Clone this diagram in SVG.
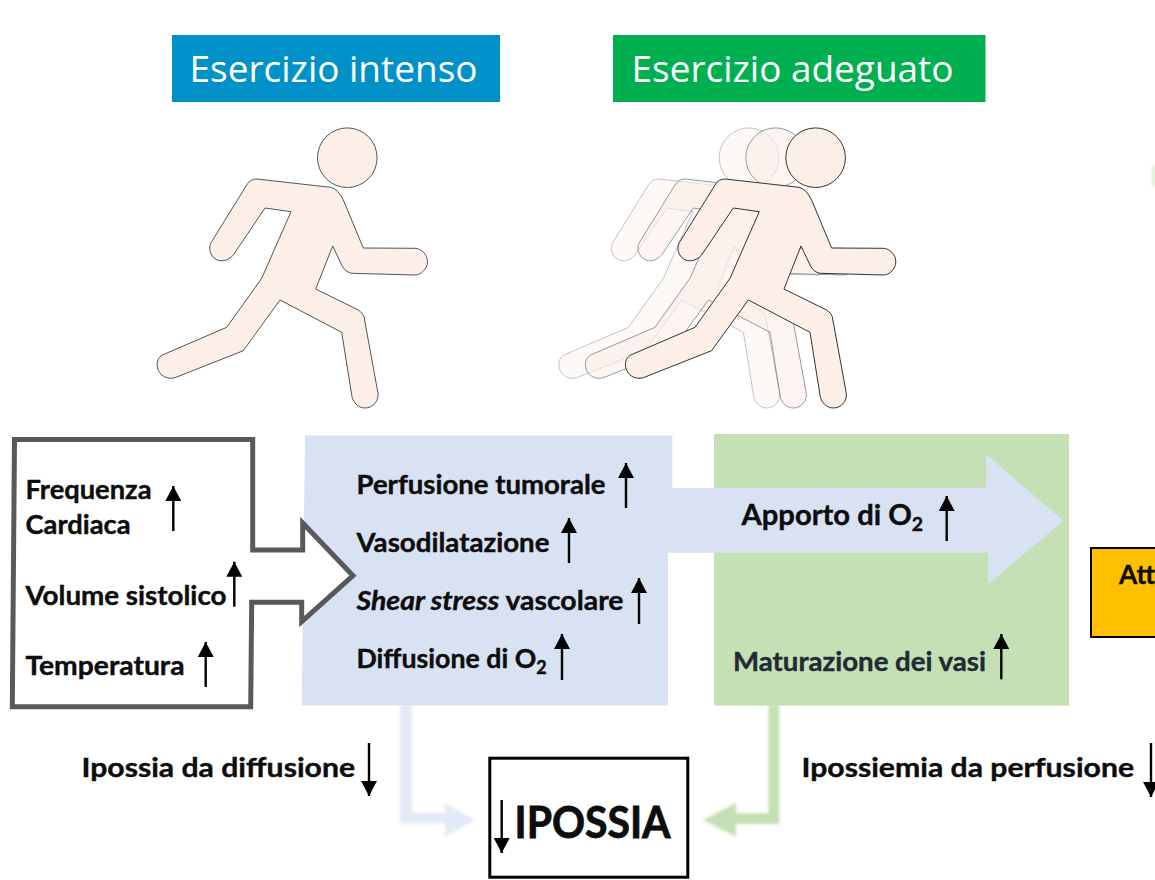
<svg xmlns="http://www.w3.org/2000/svg" xmlns:xlink="http://www.w3.org/1999/xlink" width="1155" height="880" viewBox="0 0 1155 880">
<style>
.t{font-family:"Lato","Liberation Sans",sans-serif;font-weight:700;font-size:27px;fill:#0d0d0d;stroke:#0d0d0d;stroke-width:0.4px}
.h{font-family:"Open Sans","Liberation Sans",sans-serif;font-size:37px;fill:#fff;font-weight:400}
.sub{font-size:18px}
.ar{stroke:#000;stroke-width:2.4;fill:none;marker-end:url(#head)}
.fig{fill:#fbefe8;stroke:#555;stroke-width:1}
</style>
<defs>
<marker id="head" markerUnits="userSpaceOnUse" markerWidth="18" markerHeight="16" refX="15" refY="8" orient="auto"><path d="M0 0L15 8L0 16Z" fill="#000"/></marker>
<filter id="soft" x="-10%" y="-10%" width="120%" height="120%"><feGaussianBlur stdDeviation="1.500"/></filter>
<g id="runner">
<circle cx="347.3" cy="157.7" r="29.8"/>
<path d="M256.7 179L330.7 187.3Q338 189 343.3 200L363.3 248L415 248.3C421 248.5 427.5 254 427.5 261.7C427.5 269 421 275 415 275L351.7 273.3Q345 272 341.7 265L332.7 246L315.7 289L358.3 310Q363 313 364 316.7L378 393.3C379 401 373 408 365 408C358 408 352.5 402 351.7 395L341.7 332.3L280 300L243.3 350.7L175 377.7C166 380 159.5 375 157.5 368C156 361 159 356 164 354.3L226.7 327.3L261.7 278.3L291 211.7L265 208L233.3 255C228 261 220 263 214 258C209 253 208 246 212.7 240L246.7 185Q250 179 256.7 179Z"/>
</g>
</defs>
<rect width="1155" height="880" fill="#fff"/>
<g id="title-intenso"><rect x="172" y="35" width="328" height="67" fill="#0091c9"/><text class="h" x="189.500" y="82" textLength="288" lengthAdjust="spacingAndGlyphs">Esercizio intenso</text></g>
<g id="title-adeguato"><rect x="613" y="35" width="372.500" height="67" fill="#00b050"/><text class="h" x="631.500" y="82" textLength="322" lengthAdjust="spacingAndGlyphs">Esercizio adeguato</text></g>
<g id="runner-intenso"><use xlink:href="#runner" href="#runner" class="fig"/></g>
<g id="runner-adeguato">
<use href="#runner" class="fig" transform="translate(401.700 0)" opacity="0.35"/>
<use href="#runner" class="fig" transform="translate(428.300 0)" opacity="0.6"/>
<use href="#runner" class="fig" transform="translate(468.300 0)" style="stroke:#333"/>
</g>
<g id="connectors">
<g filter="url(#soft)" opacity="0.75"><path d="M400 705H411.700V813H445V803L475 820L445 836.700V823.500H400Z" fill="#d9e2f3"/></g>
<g filter="url(#soft)"><path d="M768.300 705H779.300V824H736V836.700L703 820L736 803V813H768.300Z" fill="#c5e0b4"/></g>
</g>
<g id="panel-green"><rect x="714" y="434" width="355" height="271.700" fill="#c5e0b4"/>
<text class="t" x="733" y="671" textLength="253" lengthAdjust="spacingAndGlyphs" style="fill:#222a35;stroke:#222a35">Maturazione dei vasi</text>
<path class="ar" d="M1001.300 679.300V634"/></g>
<g id="panel-blue"><path d="M305 435.500H672.300V488H986V454.300L1063.300 520.700L988 584.300V552.700H668V705.500H301.700Z" fill="#d9e2f3"/>
<text class="t" x="356.500" y="494" textLength="249" lengthAdjust="spacingAndGlyphs">Perfusione tumorale</text>
<path class="ar" d="M626 508V463"/>
<text class="t" x="356.500" y="552" textLength="193" lengthAdjust="spacingAndGlyphs">Vasodilatazione</text>
<path class="ar" d="M569 563V518"/>
<text class="t" x="356.500" y="610" textLength="267" lengthAdjust="spacingAndGlyphs"><tspan font-style="italic">Shear stress</tspan> vascolare</text>
<path class="ar" d="M639 624V578"/>
<text class="t" x="356.500" y="668" style="font-size:26.700px">Diffusione di O<tspan class="sub" dy="6">2</tspan></text>
<path class="ar" d="M562 680V634"/>
<text class="t" x="741.500" y="524.500" style="font-size:29.200px">Apporto di O<tspan dy="6" style="font-size:19.500px">2</tspan></text>
<path class="ar" d="M946.700 541V496"/></g>
<g id="box-fisiologia"><path d="M14.500 439.500H252.700V550H302.700V523L353 575.700L301.700 621.700V602.300H251.700L250.700 706.700H12.300Z" fill="#fff" stroke="#595959" stroke-width="5"/>
<text class="t" x="25.500" y="499" textLength="126" lengthAdjust="spacingAndGlyphs">Frequenza</text>
<text class="t" x="25.500" y="533.500" textLength="105" lengthAdjust="spacingAndGlyphs">Cardiaca</text>
<path class="ar" d="M173.300 531V486"/>
<text class="t" x="25.500" y="605" textLength="201" lengthAdjust="spacingAndGlyphs">Volume sistolico</text>
<path class="ar" d="M234.300 606.700V561.700"/>
<text class="t" x="25.500" y="675" textLength="159" lengthAdjust="spacingAndGlyphs">Temperatura</text>
<path class="ar" d="M205.700 687V642"/></g>
<g id="box-attivita"><rect x="1091" y="548" width="70" height="89" fill="#ffc000" stroke="#000" stroke-width="2"/><text class="t" x="1119" y="584.300" textLength="36" lengthAdjust="spacingAndGlyphs">Att</text></g>
<g id="label-diffusione"><text class="t" x="81.500" y="777" textLength="273.500" lengthAdjust="spacingAndGlyphs">Ipossia da diffusione</text><path class="ar" d="M369 743V796"/></g>
<g id="label-perfusione"><text class="t" x="801.500" y="777" textLength="332.500" lengthAdjust="spacingAndGlyphs">Ipossiemia da perfusione</text><path class="ar" d="M1151 743V797"/></g>
<g id="box-ipossia"><rect x="489.800" y="758.200" width="198" height="119" fill="#fff" stroke="#000" stroke-width="3"/>
<text class="t" x="514.500" y="838" textLength="156" lengthAdjust="spacingAndGlyphs" style="font-size:43px;stroke-width:0.8px">IPOSSIA</text>
<path class="ar" d="M501.700 800V853"/></g>
<ellipse id="mark" cx="1154" cy="176" rx="2.500" ry="12" fill="#e3f0da" filter="url(#soft)"/>
</svg>
